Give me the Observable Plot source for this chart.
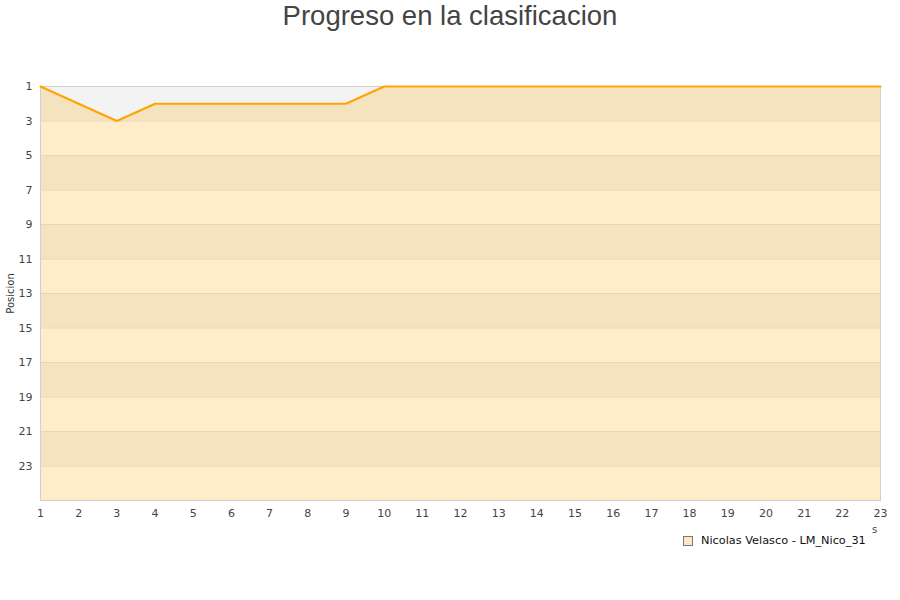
<!DOCTYPE html>
<html><head><meta charset="utf-8">
<script src="https://cdn.jsdelivr.net/npm/d3@7"></script>
<script src="https://cdn.jsdelivr.net/npm/@observablehq/plot@0.6"></script>
<style>
body{margin:0;background:#fff;}
#wrap{position:relative;width:900px;height:600px;}
#title{height:40px;text-align:center;font-family:"Liberation Sans",Arial,sans-serif;font-size:27.5px;color:#444;line-height:32px;}
#legend{position:absolute;top:534px;left:683px;font-family:"DejaVu Sans",sans-serif;font-size:11.3px;color:#111;display:flex;align-items:center;}
#legend .sw{width:8px;height:8px;border:1px solid #777;background:#fde8c3;margin-right:8px;}
#xs{position:absolute;top:524px;left:872px;font-family:"DejaVu Sans",sans-serif;font-size:10px;color:#444;}
</style></head>
<body>
<div id="wrap">
<div id="title">Progreso en la clasificacion</div>
<div id="chart"></div>
<div id="legend"><div class="sw"></div><span>Nicolas Velasco - LM_Nico_31</span></div>
<div id="xs">s</div>
</div>
<script>
const jornadas = d3.range(1, 24);
const posiciones = [1,2,3,2,2,2,2,2,2,1,1,1,1,1,1,1,1,1,1,1,1,1,1];
const yTicks = [1,3,5,7,9,11,13,15,17,19,21,23];
const bandStarts = [1,5,9,13,17,21];
const yMax = 25;

const data = jornadas.map((j,i)=>({j, pos: posiciones[i]}));
const bands = bandStarts.map(b=>({y1:b, y2:b+2}));

const chart = Plot.plot({
  width: 900, height: 500,
  marginTop: 46, marginBottom: 40, marginLeft: 40, marginRight: 20,
  style: {fontFamily: '"DejaVu Sans", sans-serif', fontSize: "11px", color: "#444", background: "#fff"},
  x: {domain: [1,23]},
  y: {domain: [1,yMax], reverse: true},
  marks: [
    Plot.rectY(bands, {x1: 1, x2: 23, y1: "y1", y2: "y2", fill: "#f3f3f3"}),
    Plot.ruleY(yTicks, {stroke: "#e2e2e2", strokeWidth: 1}),
    Plot.areaY(data, {x: "j", y1: "pos", y2: () => yMax, fill: "#ffa500", fillOpacity: 0.216}),
    Plot.frame({stroke: "#d0d0d0"}),
    Plot.line(data, {x: "j", y: "pos", stroke: "#ffa500", strokeWidth: 2.2}),
    Plot.axisX(jornadas, {tickSize: 0, tickPadding: 9, label: null, tickFormat: d => String(d), fontSize: 11}),
    Plot.axisY(yTicks, {tickSize: 0, tickPadding: 8, tickFormat: d => String(d), label: null, fontSize: 11}),
    Plot.text(["Posicion"], {frameAnchor: "left", textAnchor: "middle", dx: -30, rotate: -90, fontSize: 10, fill: "#333"})
  ]
});
document.getElementById("chart").appendChild(chart);
</script>
</body></html>
